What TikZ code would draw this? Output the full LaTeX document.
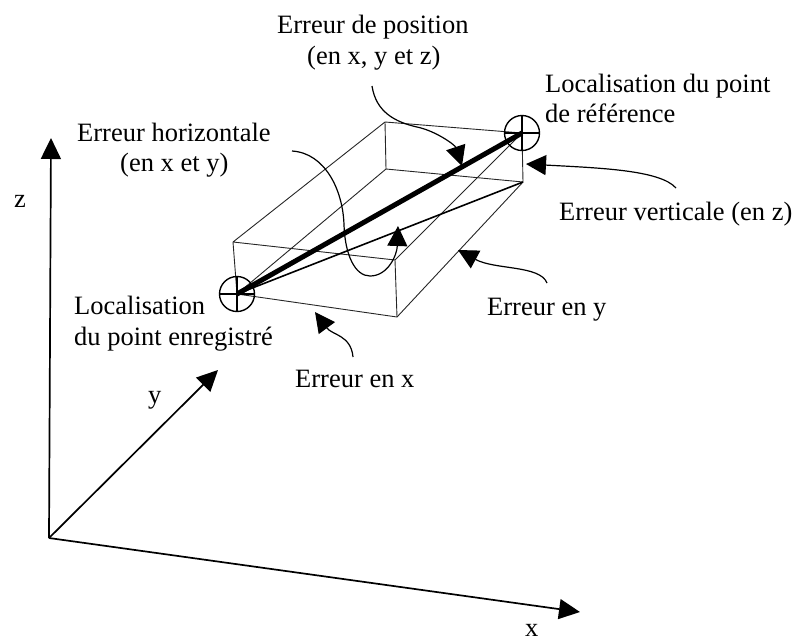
\documentclass[tikz,border=0pt]{standalone}
\usepackage{fontspec}
\setmainfont{Liberation Serif}
\usetikzlibrary{arrows.meta}
\tikzset{
 lbl/.style={anchor=base west,inner sep=0pt,font=\fontsize{26.5}{30}\selectfont},
 edgeline/.style={line width=0.9pt,black!85},
 axisarrow/.style={line width=1.7pt,-{Triangle[length=21pt,width=20pt]}},
 callout/.style={line width=1.2pt,-{Triangle[length=20pt,width=20pt]}},
 mark circle/.style={circle,draw,line width=1.4pt,minimum size=35pt,inner sep=0pt},
}
\begin{document}
\begin{tikzpicture}[x=1pt,y=-1pt]
\useasboundingbox (0,0) rectangle (792,641);
% box corners
\coordinate (tb) at (385,122);
\coordinate (tr) at (522,133);
\coordinate (tl) at (233,242);
\coordinate (tf) at (395,260);
\coordinate (bl) at (237,294);
\coordinate (bf) at (397,317);
\coordinate (br) at (523,182);
\coordinate (bb) at (386,169);
% axes
\coordinate (O) at (49,538);
\coordinate (Z) at (51,138);
\coordinate (Y) at (218,370);
\coordinate (X) at (580,612);
\draw[axisarrow] (O) -- (Z);
\draw[axisarrow] (O) -- (Y);
\draw[axisarrow] (O) -- (X);
% box
\draw[edgeline] (tl) -- (tb) -- (tr) -- (tf) -- (tl);
\draw[edgeline] (tb) -- (bb) -- (br);
\draw[edgeline] (bb) -- (bl) -- (bf) -- (br) -- (tr);
\draw[edgeline] (tl) -- (bl);
\draw[edgeline] (tf) -- (bf);
\draw[edgeline] (bl) -- (tr);
% markers
\node[mark circle] (L) at (237,294) {};
\node[mark circle] (R) at (522,133) {};
\draw[line width=1.2pt] (L.north) -- (L.south) (L.west) -- (L.east);
\draw[line width=1.2pt] (R.north) -- (R.south) (R.west) -- (R.east);
% diagonals
\draw[line width=1.6pt] (L.center) -- (br);
\draw[line width=5pt] (L.center) -- (R.center);
% text
\node[lbl] (t1) at (277,33) {Erreur de position};
\node[lbl] (t2) at (307,64) {(en x, y et z)};
\node[lbl] (t3) at (545,92) {Localisation du point};
\node[lbl] (t4) at (545,122) {de référence};
\node[lbl] (t5) at (77,141) {Erreur horizontale};
\node[lbl] (t6) at (120,171) {(en x et y)};
\node[lbl] (t7) at (559,220) {Erreur verticale (en z)};
\node[lbl] (t8) at (74,314) {Localisation};
\node[lbl] (t9) at (74,345) {du point enregistré};
\node[lbl] (t10) at (487,315) {Erreur en y};
\node[lbl] (t11) at (295,387) {Erreur en x};
\node[lbl] (lz) at (14,207) {z};
\node[lbl] (ly) at (148,403) {y};
\node[lbl] (lx) at (525,636) {x};
% callouts
\coordinate (c1s) at (372,86);
\coordinate (c1e) at (462,166);
\draw[callout] (c1s) .. controls (376,112) and (395,122) .. (417,127) .. controls (436,131) and (455,145) .. (c1e);
\coordinate (c2s) at (292,151);
\coordinate (c2e) at (398,226);
\draw[callout] (c2s) .. controls (325,153) and (343,190) .. (344,225) .. controls (345,255) and (355,276) .. (370,276) .. controls (388,276) and (397,255) .. (c2e);
\coordinate (c3s) at (676,188);
\coordinate (c3e) at (526,164);
\draw[callout] (c3s) .. controls (660,170) and (600,168) .. (c3e);
\coordinate (c4s) at (547,283);
\coordinate (c4e) at (458,250);
\draw[callout] (c4s) .. controls (540,265) and (495,270) .. (c4e);
\coordinate (c5s) at (353,357);
\coordinate (c5e) at (315,312);
\draw[callout] (c5s) .. controls (351,335) and (332,335) .. (c5e);
\end{tikzpicture}
\end{document}
